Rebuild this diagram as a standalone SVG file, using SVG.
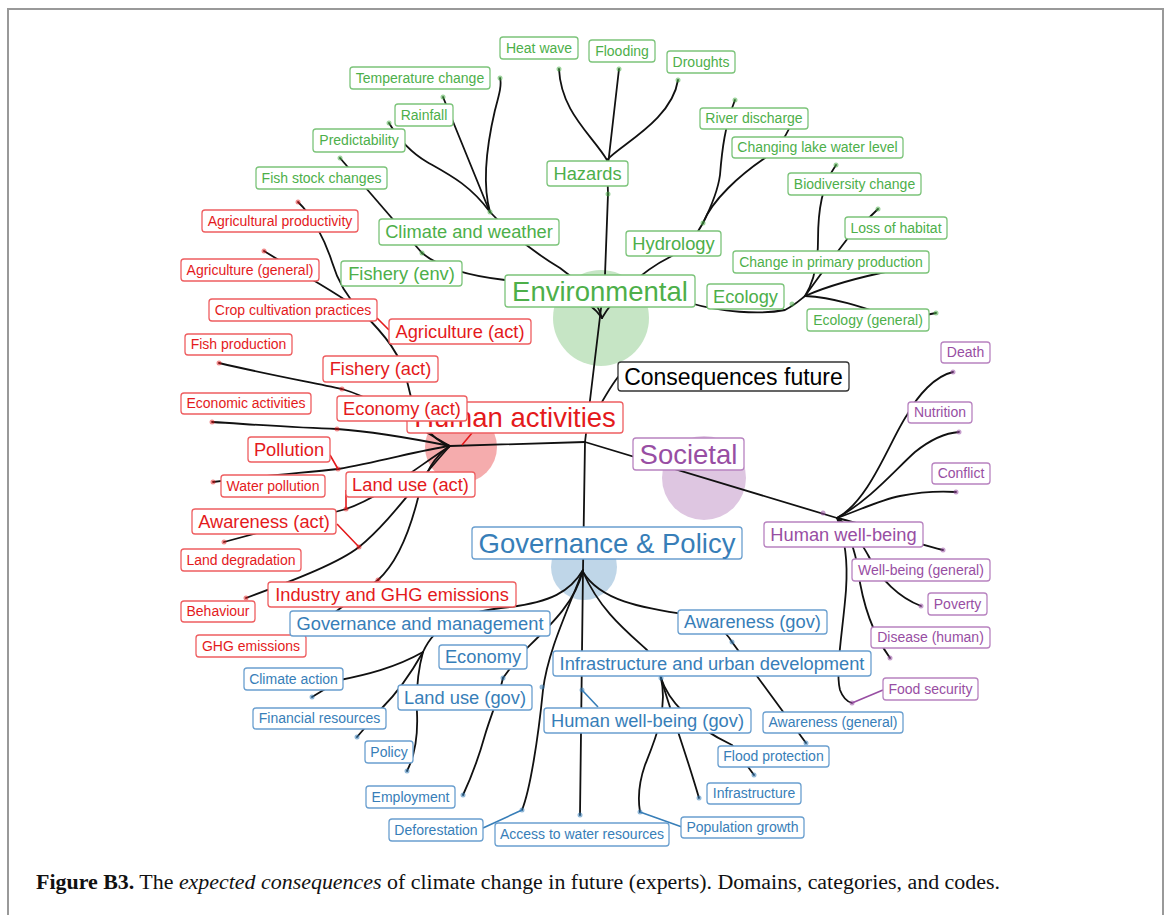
<svg xmlns="http://www.w3.org/2000/svg" width="1172" height="915" viewBox="0 0 1172 915">
<style>
text{font-family:"Liberation Sans",Arial,sans-serif;text-anchor:middle}
.ln{fill:none;stroke:#111;stroke-width:1.8;stroke-linecap:round}
.lr{fill:none;stroke:#e41a1c;stroke-width:1.6}
.lb{fill:none;stroke:#377eb8;stroke-width:1.6}
.lp{fill:none;stroke:#984ea3;stroke-width:1.6}
.b{fill:#fff;stroke-width:1.3}
.g rect{stroke:#7cc47a}.g text{fill:#4daf4a}
.r rect{stroke:#ee5e60}.r text{fill:#e41a1c}
.u rect{stroke:#6a9fcf}.u text{fill:#377eb8}
.p rect{stroke:#b883c0}.p text{fill:#984ea3}
.k rect{stroke:#333}.k text{fill:#000}
.f1{font-size:14px}.f2{font-size:18.3px}.f3{font-size:27.5px}.f4{font-size:23px}
.dg{fill:#4daf4a;fill-opacity:.55}.dr{fill:#e41a1c;fill-opacity:.5}.du{fill:#377eb8;fill-opacity:.55}.dp{fill:#984ea3;fill-opacity:.55}
</style>
<path d="M8,930 V9 H1163 V930" fill="none" stroke="#999" stroke-width="2"/>
<g id="circles">
<circle cx="601" cy="318" r="48" fill="#4daf4a" fill-opacity="0.32"/>
<circle cx="461" cy="447" r="36" fill="#e41a1c" fill-opacity="0.36"/>
<circle cx="704" cy="478" r="42" fill="#984ea3" fill-opacity="0.32"/>
<circle cx="584" cy="567" r="33" fill="#377eb8" fill-opacity="0.32"/>
</g>
<g id="connectors">
<path class="ln" d="M585,442 L605,275 L608,194"/>
<path class="ln" d="M608,194 L607,160 C592,135 561,112 559,69"/>
<path class="ln" d="M608,165 L619,69"/>
<path class="ln" d="M607,160 C620,145 672,120 678,80"/>
<path class="ln" d="M602,318 C612,300 640,272 670,257 C685,248 697,235 703,223"/>
<path class="ln" d="M703,223 C712,205 718,190 720,175 C722,150 725,125 735,100"/>
<path class="ln" d="M703,223 C712,200 740,175 765,158 C778,148 785,138 790,127"/>
<path class="ln" d="M690,303 C720,312 760,315 785,310 C795,305 800,300 805,296"/>
<path class="ln" d="M805,296 C815,280 818,262 818,240 C818,210 822,185 836,165"/>
<path class="ln" d="M805,296 C820,275 835,255 848,238 L878,209"/>
<path class="ln" d="M805,296 C830,285 860,277 895,270"/>
<path class="ln" d="M805,296 C840,298 870,310 900,320 L936,313"/>
<path class="ln" d="M602,318 C595,295 580,283 560,268 C530,250 505,228 490,212"/>
<path class="ln" d="M490,212 C481,180 488,140 495,110 C499,95 502,85 500,78"/>
<path class="ln" d="M489,210 L443,97"/>
<path class="ln" d="M490,212 C470,185 450,175 427,162 C410,152 398,138 389,123"/>
<path class="ln" d="M602,318 C590,300 560,285 505,280 C470,276 440,268 422,253"/>
<path class="ln" d="M422,253 L340,158"/>
<path class="ln" d="M450,446 L585,442"/>
<path class="ln" d="M298,202 C312,215 325,240 332,262 C338,282 348,298 360,310"/>
<path class="ln" d="M264,251 L282,262 C310,278 335,292 360,310"/>
<path class="ln" d="M360,310 C385,335 402,355 408,385 C414,415 430,440 450,446"/>
<path class="ln" d="M219,363 C270,375 310,382 342,389 C380,400 420,430 450,446"/>
<path class="ln" d="M212,422 C260,425 300,428 337,429 C380,432 420,440 450,446"/>
<path class="ln" d="M213,482 C260,476 300,473 338,469 C380,462 420,450 450,446"/>
<path class="ln" d="M224,542 L346,509 C380,498 420,465 450,446"/>
<path class="ln" d="M246,598 C300,578 340,562 359,547 C390,522 420,478 450,446"/>
<path class="ln" d="M378,580 C400,560 412,522 418,498 C425,470 436,455 450,446"/>
<path class="ln" d="M378,580 L322,622"/>
<path class="ln" d="M585,442 L583,570"/>
<path class="ln" d="M583,570 C570,592 550,602 510,607 C460,612 435,625 423,652"/>
<path class="ln" d="M423,652 C395,668 365,675 340,680 L312,697"/>
<path class="ln" d="M423,652 C410,675 395,695 382,708 L357,737"/>
<path class="ln" d="M423,652 C418,670 416,690 417,713 C418,735 415,755 407,771"/>
<path class="ln" d="M583,570 C575,605 545,630 520,655 L503,678"/>
<path class="ln" d="M503,678 C498,700 492,712 485,735 C478,760 470,780 463,795"/>
<path class="ln" d="M583,570 C568,610 548,650 543,690 C538,740 530,790 522,810"/>
<path class="ln" d="M583,570 L580,815"/>
<path class="ln" d="M583,572 C600,600 640,608 690,615 C710,620 725,630 732,642 L806,743"/>
<path class="ln" d="M583,572 C600,610 625,630 647,650 C655,660 660,670 661,678"/>
<path class="ln" d="M661,678 C668,700 690,725 732,745 L754,775"/>
<path class="ln" d="M661,678 C670,710 685,750 699,798"/>
<path class="ln" d="M661,678 C668,710 655,740 645,765 C638,785 638,800 640,812"/>
<path class="ln" d="M585,442 L837,518"/>
<path class="ln" d="M837,518 C870,500 890,440 907,415 C918,395 935,376 953,372"/>
<path class="ln" d="M837,518 C870,500 895,470 915,452 C930,440 945,433 959,432"/>
<path class="ln" d="M837,518 C860,510 880,500 900,496 C920,492 940,491 956,492"/>
<path class="ln" d="M837,518 C870,525 900,540 943,550"/>
<path class="ln" d="M837,518 C855,530 862,545 868,555 C880,580 900,598 921,606"/>
<path class="ln" d="M837,518 C850,535 855,550 858,570 C862,600 870,630 890,658"/>
<path class="ln" d="M837,518 C845,540 848,560 846,590 C843,630 835,670 840,690 C843,698 848,702 852,703"/>
<path class="ln" d="M592,420 C600,405 608,390 618,377"/>
<path class="lr" d="M377,318 L389,330 M330,455 L338,469 M346,490 L346,509 M337,524 L359,547 M472,433 L462,445"/>
<path class="lb" d="M483,828 L522,810 M582,690 L598,707 M640,812 L682,827"/>
<path class="lp" d="M883,690 L852,703"/>
<g class="dots">
<circle class="dg" cx="559" cy="69" r="2.5"/><circle class="dg" cx="619" cy="69" r="2.5"/><circle class="dg" cx="678" cy="80" r="2.5"/><circle class="dg" cx="500" cy="78" r="2.5"/><circle class="dg" cx="443" cy="97" r="2.5"/><circle class="dg" cx="389" cy="123" r="2.5"/><circle class="dg" cx="340" cy="158" r="2.5"/><circle class="dg" cx="735" cy="100" r="2.5"/><circle class="dg" cx="836" cy="165" r="2.5"/><circle class="dg" cx="878" cy="209" r="2.5"/><circle class="dg" cx="936" cy="313" r="2.5"/><circle class="dg" cx="703" cy="223" r="2.5"/><circle class="dg" cx="608" cy="194" r="2.5"/><circle class="dg" cx="490" cy="212" r="2.5"/><circle class="dg" cx="422" cy="253" r="2.5"/><circle class="dg" cx="792" cy="304" r="2.5"/>
<circle class="dr" cx="298" cy="202" r="2.5"/><circle class="dr" cx="264" cy="251" r="2.5"/><circle class="dr" cx="219" cy="363" r="2.5"/><circle class="dr" cx="342" cy="389" r="2.5"/><circle class="dr" cx="212" cy="422" r="2.5"/><circle class="dr" cx="337" cy="429" r="2.5"/><circle class="dr" cx="213" cy="482" r="2.5"/><circle class="dr" cx="338" cy="469" r="2.5"/><circle class="dr" cx="346" cy="509" r="2.5"/><circle class="dr" cx="224" cy="542" r="2.5"/><circle class="dr" cx="359" cy="547" r="2.5"/><circle class="dr" cx="246" cy="598" r="2.5"/><circle class="dr" cx="378" cy="580" r="2.5"/>
<circle class="du" cx="312" cy="697" r="2.5"/><circle class="du" cx="357" cy="737" r="2.5"/><circle class="du" cx="407" cy="771" r="2.5"/><circle class="du" cx="503" cy="678" r="2.5"/><circle class="du" cx="463" cy="795" r="2.5"/><circle class="du" cx="542" cy="687" r="2.5"/><circle class="du" cx="522" cy="810" r="2.5"/><circle class="du" cx="580" cy="815" r="2.5"/><circle class="du" cx="582" cy="690" r="2.5"/><circle class="du" cx="732" cy="642" r="2.5"/><circle class="du" cx="806" cy="743" r="2.5"/><circle class="du" cx="754" cy="775" r="2.5"/><circle class="du" cx="699" cy="798" r="2.5"/><circle class="du" cx="640" cy="812" r="2.5"/><circle class="du" cx="661" cy="678" r="2.5"/>
<circle class="dp" cx="953" cy="372" r="2.5"/><circle class="dp" cx="959" cy="432" r="2.5"/><circle class="dp" cx="956" cy="492" r="2.5"/><circle class="dp" cx="943" cy="550" r="2.5"/><circle class="dp" cx="921" cy="606" r="2.5"/><circle class="dp" cx="890" cy="658" r="2.5"/><circle class="dp" cx="852" cy="703" r="2.5"/><circle class="dp" cx="823" cy="513" r="2.5"/>
</g>
</g>
<g id="root" class="k"><rect class="b" x="618" y="362" width="231" height="29" rx="3"/><text class="f4" x="733.5" y="384.5">Consequences future</text></g>
<g id="environmental" class="g"><rect class="b" x="505" y="275" width="190" height="32" rx="3"/><text class="f3" x="600" y="300.6">Environmental</text></g>
<g id="human-activities" class="r"><rect class="b" x="407" y="402" width="216" height="31" rx="3"/><text class="f3" x="515" y="427.1">Human activities</text></g>
<g id="societal" class="p"><rect class="b" x="633" y="438" width="111" height="32" rx="3"/><text class="f3" x="688.5" y="463.6">Societal</text></g>
<g id="governance" class="u"><rect class="b" x="472" y="527" width="270" height="32" rx="3"/><text class="f3" x="607" y="552.6">Governance &amp; Policy</text></g>
<g id="climate-weather" class="g"><rect class="b" x="379" y="219" width="180" height="26" rx="3"/><text class="f2" x="469" y="238.4">Climate and weather</text></g>
<g id="hazards" class="g"><rect class="b" x="547" y="161" width="81" height="25" rx="3"/><text class="f2" x="587.5" y="179.9">Hazards</text></g>
<g id="hydrology" class="g"><rect class="b" x="626" y="231" width="95" height="25" rx="3"/><text class="f2" x="673.5" y="249.9">Hydrology</text></g>
<g id="ecology" class="g"><rect class="b" x="707" y="284" width="77" height="25" rx="3"/><text class="f2" x="745.5" y="302.9">Ecology</text></g>
<g id="fishery-env" class="g"><rect class="b" x="341" y="261" width="121" height="25" rx="3"/><text class="f2" x="401.5" y="279.9">Fishery (env)</text></g>
<g id="heat-wave" class="g"><rect class="b" x="500" y="37" width="78" height="22" rx="3"/><text class="f1" x="539" y="52.9">Heat wave</text></g>
<g id="flooding" class="g"><rect class="b" x="589" y="40" width="66" height="22" rx="3"/><text class="f1" x="622" y="55.9">Flooding</text></g>
<g id="droughts" class="g"><rect class="b" x="667" y="51" width="68" height="22" rx="3"/><text class="f1" x="701" y="66.9">Droughts</text></g>
<g id="temperature" class="g"><rect class="b" x="350" y="67" width="140" height="22" rx="3"/><text class="f1" x="420" y="82.9">Temperature change</text></g>
<g id="rainfall" class="g"><rect class="b" x="395" y="104" width="58" height="22" rx="3"/><text class="f1" x="424" y="119.9">Rainfall</text></g>
<g id="predictability" class="g"><rect class="b" x="313" y="129" width="92" height="23" rx="3"/><text class="f1" x="359" y="145.4">Predictability</text></g>
<g id="fish-stock" class="g"><rect class="b" x="256" y="167" width="131" height="22" rx="3"/><text class="f1" x="321.5" y="182.9">Fish stock changes</text></g>
<g id="river" class="g"><rect class="b" x="700" y="108" width="108" height="21" rx="3"/><text class="f1" x="754" y="123.4">River discharge</text></g>
<g id="lake" class="g"><rect class="b" x="732" y="137" width="171" height="21" rx="3"/><text class="f1" x="817.5" y="152.4">Changing lake water level</text></g>
<g id="biodiversity" class="g"><rect class="b" x="788" y="173" width="133" height="22" rx="3"/><text class="f1" x="854.5" y="188.9">Biodiversity change</text></g>
<g id="habitat" class="g"><rect class="b" x="845" y="217" width="102" height="22" rx="3"/><text class="f1" x="896" y="232.9">Loss of habitat</text></g>
<g id="primary" class="g"><rect class="b" x="733" y="251" width="196" height="22" rx="3"/><text class="f1" x="831" y="266.9">Change in primary production</text></g>
<g id="ecology-general" class="g"><rect class="b" x="807" y="309" width="122" height="22" rx="3"/><text class="f1" x="868" y="324.9">Ecology (general)</text></g>
<g id="agriculture-act" class="r"><rect class="b" x="389" y="319" width="142" height="25" rx="3"/><text class="f2" x="460" y="337.9">Agriculture (act)</text></g>
<g id="fishery-act" class="r"><rect class="b" x="323" y="356" width="115" height="26" rx="3"/><text class="f2" x="380.5" y="375.4">Fishery (act)</text></g>
<g id="economy-act" class="r"><rect class="b" x="337" y="396" width="130" height="25" rx="3"/><text class="f2" x="402" y="414.9">Economy (act)</text></g>
<g id="pollution" class="r"><rect class="b" x="248" y="437" width="82" height="25" rx="3"/><text class="f2" x="289" y="455.9">Pollution</text></g>
<g id="land-use-act" class="r"><rect class="b" x="346" y="472" width="129" height="25" rx="3"/><text class="f2" x="410.5" y="490.9">Land use (act)</text></g>
<g id="awareness-act" class="r"><rect class="b" x="192" y="509" width="144" height="25" rx="3"/><text class="f2" x="264" y="527.9">Awareness (act)</text></g>
<g id="industry" class="r"><rect class="b" x="268" y="582" width="248" height="25" rx="3"/><text class="f2" x="392" y="600.9">Industry and GHG emissions</text></g>
<g id="agri-productivity" class="r"><rect class="b" x="202" y="210" width="156" height="22" rx="3"/><text class="f1" x="280" y="225.9">Agricultural productivity</text></g>
<g id="agri-general" class="r"><rect class="b" x="181" y="259" width="138" height="22" rx="3"/><text class="f1" x="250" y="274.9">Agriculture (general)</text></g>
<g id="crop" class="r"><rect class="b" x="209" y="299" width="168" height="22" rx="3"/><text class="f1" x="293" y="314.9">Crop cultivation practices</text></g>
<g id="fish-production" class="r"><rect class="b" x="185" y="334" width="107" height="21" rx="3"/><text class="f1" x="238.5" y="349.4">Fish production</text></g>
<g id="economic-activities" class="r"><rect class="b" x="181" y="393" width="130" height="21" rx="3"/><text class="f1" x="246" y="408.4">Economic activities</text></g>
<g id="water-pollution" class="r"><rect class="b" x="221" y="475" width="104" height="22" rx="3"/><text class="f1" x="273" y="490.9">Water pollution</text></g>
<g id="land-degradation" class="r"><rect class="b" x="181" y="549" width="120" height="22" rx="3"/><text class="f1" x="241" y="564.9">Land degradation</text></g>
<g id="behaviour" class="r"><rect class="b" x="181" y="601" width="74" height="21" rx="3"/><text class="f1" x="218" y="616.4">Behaviour</text></g>
<g id="ghg" class="r"><rect class="b" x="196" y="635" width="110" height="22" rx="3"/><text class="f1" x="251" y="650.9">GHG emissions</text></g>
<g id="gov-management" class="u"><rect class="b" x="290" y="611" width="260" height="25" rx="3"/><text class="f2" x="420" y="629.9">Governance and management</text></g>
<g id="economy-gov" class="u"><rect class="b" x="439" y="645" width="88" height="24" rx="3"/><text class="f2" x="483" y="663.4">Economy</text></g>
<g id="land-use-gov" class="u"><rect class="b" x="398" y="685" width="134" height="25" rx="3"/><text class="f2" x="465" y="703.9">Land use (gov)</text></g>
<g id="awareness-gov" class="u"><rect class="b" x="678" y="610" width="149" height="24" rx="3"/><text class="f2" x="752.5" y="628.4">Awareness (gov)</text></g>
<g id="infrastructure-urban" class="u"><rect class="b" x="553" y="651" width="318" height="25" rx="3"/><text class="f2" x="712" y="669.9">Infrastructure and urban development</text></g>
<g id="hwb-gov" class="u"><rect class="b" x="544" y="708" width="207" height="25" rx="3"/><text class="f2" x="647.5" y="726.9">Human well-being (gov)</text></g>
<g id="climate-action" class="u"><rect class="b" x="244" y="668" width="99" height="22" rx="3"/><text class="f1" x="293.5" y="683.9">Climate action</text></g>
<g id="financial" class="u"><rect class="b" x="253" y="708" width="133" height="21" rx="3"/><text class="f1" x="319.5" y="723.4">Financial resources</text></g>
<g id="policy" class="u"><rect class="b" x="365" y="741" width="48" height="22" rx="3"/><text class="f1" x="389" y="756.9">Policy</text></g>
<g id="employment" class="u"><rect class="b" x="366" y="786" width="89" height="22" rx="3"/><text class="f1" x="410.5" y="801.9">Employment</text></g>
<g id="deforestation" class="u"><rect class="b" x="389" y="819" width="94" height="22" rx="3"/><text class="f1" x="436" y="834.9">Deforestation</text></g>
<g id="water-access" class="u"><rect class="b" x="495" y="823" width="174" height="23" rx="3"/><text class="f1" x="582" y="839.4">Access to water resources</text></g>
<g id="awareness-general" class="u"><rect class="b" x="763" y="712" width="140" height="21" rx="3"/><text class="f1" x="833" y="727.4">Awareness (general)</text></g>
<g id="flood-protection" class="u"><rect class="b" x="718" y="746" width="111" height="21" rx="3"/><text class="f1" x="773.5" y="761.4">Flood protection</text></g>
<g id="infrastructure" class="u"><rect class="b" x="707" y="783" width="94" height="21" rx="3"/><text class="f1" x="754" y="798.4">Infrastructure</text></g>
<g id="population" class="u"><rect class="b" x="681" y="817" width="123" height="21" rx="3"/><text class="f1" x="742.5" y="832.4">Population growth</text></g>
<g id="hwb" class="p"><rect class="b" x="764" y="522" width="159" height="25" rx="3"/><text class="f2" x="843.5" y="540.9">Human well-being</text></g>
<g id="death" class="p"><rect class="b" x="941" y="342" width="49" height="21" rx="3"/><text class="f1" x="965.5" y="357.4">Death</text></g>
<g id="nutrition" class="p"><rect class="b" x="908" y="402" width="64" height="21" rx="3"/><text class="f1" x="940" y="417.4">Nutrition</text></g>
<g id="conflict" class="p"><rect class="b" x="932" y="463" width="58" height="21" rx="3"/><text class="f1" x="961" y="478.4">Conflict</text></g>
<g id="wb-general" class="p"><rect class="b" x="852" y="559" width="138" height="22" rx="3"/><text class="f1" x="921" y="574.9">Well-being (general)</text></g>
<g id="poverty" class="p"><rect class="b" x="928" y="593" width="59" height="22" rx="3"/><text class="f1" x="957.5" y="608.9">Poverty</text></g>
<g id="disease" class="p"><rect class="b" x="871" y="627" width="119" height="21" rx="3"/><text class="f1" x="930.5" y="642.4">Disease (human)</text></g>
<g id="food-security" class="p"><rect class="b" x="883" y="678" width="95" height="22" rx="3"/><text class="f1" x="930.5" y="693.9">Food security</text></g>
<text x="36" y="889" textLength="964" lengthAdjust="spacingAndGlyphs" style="font-family:'Liberation Serif',serif;font-size:20.5px;text-anchor:start;fill:#111"><tspan font-weight="bold">Figure B3.</tspan> The <tspan font-style="italic">expected consequences</tspan> of climate change in future (experts). Domains, categories, and codes.</text>
</svg>
